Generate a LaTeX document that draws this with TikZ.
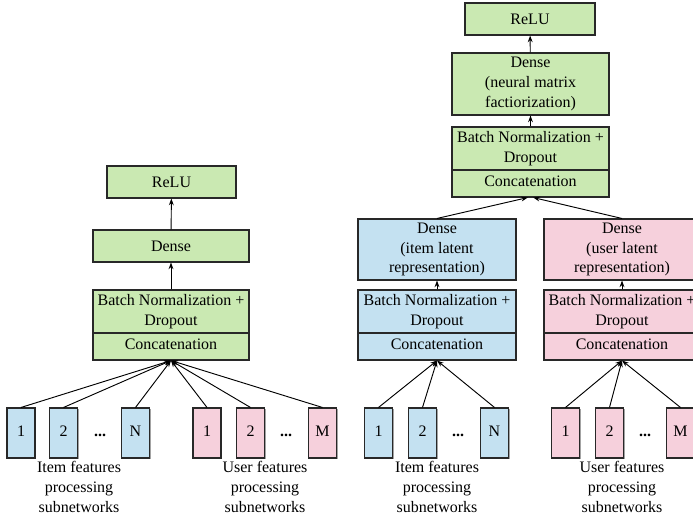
\documentclass[tikz,border=0pt]{standalone}
\usepackage{fontspec}
\setmainfont{Liberation Serif}
\usetikzlibrary{arrows.meta,shadows}
\definecolor{boxgreen}{RGB}{202,233,178}
\definecolor{boxblue}{RGB}{196,225,241}
\definecolor{boxpink}{RGB}{246,208,220}
\definecolor{edgegray}{RGB}{40,40,40}
\tikzset{
  px/.style={x=0.75pt,y=-0.75pt},
  block/.style={draw=edgegray, line width=0.8pt, align=center, inner sep=0pt,
    font=\fontsize{12}{14.8}\selectfont},
  wide/.style={minimum width={156*0.75pt}},
  catpart/.style={minimum height={27*0.75pt}, text depth=4pt},
  greenbox/.style={block, fill=boxgreen},
  bluebox/.style={block, fill=boxblue},
  pinkbox/.style={block, fill=boxpink},
  subnet/.style={block, minimum width={28*0.75pt}, minimum height={50*0.75pt},
    text depth=0pt, text height=5.5pt,
    drop shadow={shadow xshift=1pt, shadow yshift=-1pt, fill=black!45, opacity=0.8}},
  dots/.style={font=\fontsize{12}{14}\selectfont\bfseries, inner sep=0pt},
  caption/.style={align=center, inner sep=0pt, font=\fontsize{12}{15}\selectfont},
  link/.style={line width=0.7pt, draw=black, -{Stealth[length=5pt,width=3.6pt]}}
}
\begin{document}
\begin{tikzpicture}[px]
\useasboundingbox (0,0) rectangle (693,518);

% ---------- left model ----------
\node[greenbox, minimum width={129*0.75pt}, minimum height={32*0.75pt}] (reluL) at (171.5,182) {ReLU};
\node[greenbox, wide, minimum height={32*0.75pt}] (denseL) at (171,246) {Dense};
\node[greenbox, wide, minimum height={43*0.75pt}] (bnL) at (171,311.5) {Batch Normalization +\\Dropout};
\node[greenbox, wide, catpart] (catL) at (171,346.5) {Concatenation};

\node[subnet, fill=boxblue] (iL1) at (21,433) {1};
\node[subnet, fill=boxblue] (iL2) at (63.5,433) {2};
\node[dots] (iLd) at (100,435) {...};
\node[subnet, fill=boxblue] (iLN) at (135.5,433) {N};
\node[subnet, fill=boxpink] (uL1) at (207,433) {1};
\node[subnet, fill=boxpink] (uL2) at (250.5,433) {2};
\node[dots] (uLd) at (286,435) {...};
\node[subnet, fill=boxpink] (uLM) at (322.5,433) {M};

\node[caption] (capIL) at (79,487) {Item features\\processing\\subnetworks};
\node[caption] (capUL) at (265,487) {User features\\processing\\subnetworks};

\draw[link] (denseL) -- (reluL);
\draw[link] (bnL) -- (denseL);
\foreach \s in {iL1,iL2,iLN,uL1,uL2,uLM}
  \draw[link] (\s.north) -- (catL.south);

% ---------- right model ----------
\node[greenbox, minimum width={130*0.75pt}, minimum height={32*0.75pt}] (reluR) at (530,19) {ReLU};
\node[greenbox, minimum width={157*0.75pt}, minimum height={62*0.75pt}] (denseR) at (530.5,84) {Dense\\(neural matrix\\factiorization)};
\node[greenbox, minimum width={157*0.75pt}, minimum height={43*0.75pt}] (bnR) at (530.5,148.5) {Batch Normalization +\\Dropout};
\node[greenbox, minimum width={157*0.75pt}, catpart] (catR) at (530.5,183.5) {Concatenation};

\node[bluebox, minimum width={158*0.75pt}, minimum height={61*0.75pt}] (denseI) at (437,249.5) {Dense\\(item latent\\representation)};
\node[bluebox, minimum width={158*0.75pt}, minimum height={43*0.75pt}] (bnI) at (437,311.5) {Batch Normalization +\\Dropout};
\node[bluebox, minimum width={158*0.75pt}, catpart] (catI) at (437,346.5) {Concatenation};

\node[pinkbox, wide, minimum height={61*0.75pt}] (denseU) at (622,249.5) {Dense\\(user latent\\representation)};
\node[pinkbox, wide, minimum height={43*0.75pt}] (bnU) at (622,311.5) {Batch Normalization +\\Dropout};
\node[pinkbox, wide, catpart] (catU) at (622,346.5) {Concatenation};

\node[subnet, fill=boxblue] (iR1) at (378.5,433) {1};
\node[subnet, fill=boxblue] (iR2) at (422.5,433) {2};
\node[dots] (iRd) at (458,435) {...};
\node[subnet, fill=boxblue] (iRN) at (494.5,433) {N};
\node[subnet, fill=boxpink] (uR1) at (565.5,433) {1};
\node[subnet, fill=boxpink] (uR2) at (609.5,433) {2};
\node[dots] (uRd) at (645,435) {...};
\node[subnet, fill=boxpink] (uRM) at (680.5,433) {M};

\node[caption] (capIR) at (437,487) {Item features\\processing\\subnetworks};
\node[caption] (capUR) at (622,487) {User features\\processing\\subnetworks};

\draw[link] (denseR) -- (reluR);
\draw[link] (bnR) -- (denseR);
\draw[link] (denseI.north) -- ([xshift=-2pt]catR.south);
\draw[link] (denseU.north) -- ([xshift=2pt]catR.south);
\draw[link] (bnI) -- (denseI);
\draw[link] (bnU) -- (denseU);
\foreach \s in {iR1,iR2,iRN}
  \draw[link] (\s.north) -- (catI.south);
\foreach \s in {uR1,uR2,uRM}
  \draw[link] (\s.north) -- (catU.south);
\end{tikzpicture}
\end{document}
